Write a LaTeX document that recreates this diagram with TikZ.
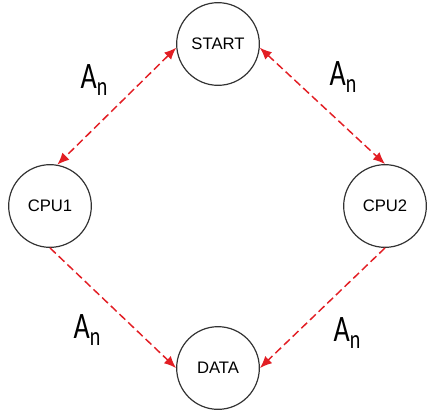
\documentclass[tikz,border=0pt]{standalone}
\usepackage{fontspec}
\setmainfont{Liberation Sans}
\newfontfamily\labelfont{Carlito}
\usepackage{graphicx}
\usetikzlibrary{positioning,arrows.meta}
\definecolor{linkred}{RGB}{226,30,36}
\newcommand{\An}{\scalebox{0.75}[1]{A\raisebox{-5pt}{\fontsize{20}{20}\selectfont n}}}

\begin{document}
\begin{tikzpicture}[x=0.75pt, y=-0.75pt,
      state/.style={circle, draw=black!80, line width=0.9pt, minimum size=62pt, inner sep=0pt, font=\fontsize{12.5}{14}\selectfont},
      link/.style={draw=linkred, line width=1.1pt, dash pattern=on 6pt off 3pt, >={Latex[length=9pt, width=7.5pt]}},
      lbl/.style={font=\labelfont\fontsize{28}{28}\selectfont, inner sep=0pt}]
      \useasboundingbox (0, 0) rectangle (427, 411);
      \node [state] (start) at (218, 44) {START};
      \node [state] (cpu1) at (50, 206) {CPU1};
      \node [state] (cpu2) at (385, 206) {CPU2};
      \node [state] (data) at (218, 368) {DATA};
      \draw [link, <->] (start.185) -- (cpu1.80);
      \draw [link, <->] (start.-5) -- (cpu2.north);
      \draw [link, ->] (cpu1.south) -- (data.west);
      \draw [link, ->] (cpu2.south) -- (data.east);
      \node [lbl] (an1) at (94, 80) {\An};
      \node [lbl] (an2) at (343, 77) {\An};
      \node [lbl] (an3) at (87, 330) {\An};
      \node [lbl] (an4) at (347, 333) {\An};
\end{tikzpicture}
\end{document}
